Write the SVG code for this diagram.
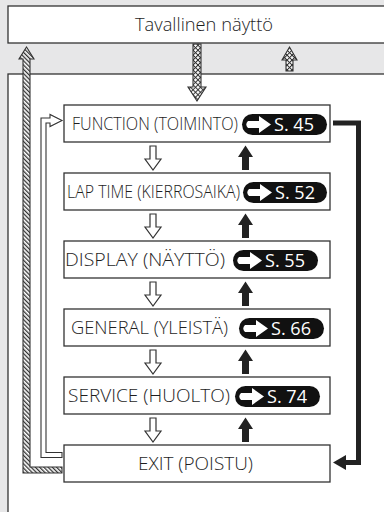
<svg xmlns="http://www.w3.org/2000/svg" width="384" height="512" viewBox="0 0 384 512">
<defs>
<pattern id="hatch" width="3" height="3" patternUnits="userSpaceOnUse" patternTransform="rotate(-45)">
<rect width="3" height="3" fill="#fff"/>
<rect width="1.3" height="3" fill="#333"/>
</pattern>
<pattern id="cross" width="3.5" height="3.5" patternUnits="userSpaceOnUse" patternTransform="rotate(45)">
<rect width="3.5" height="3.5" fill="#333"/>
<rect x="1" y="1" width="2.5" height="2.5" fill="#fff"/>
</pattern>
<g id="pillArrow">
<path d="M2,-3.5 L13,-3.5 L13,-8.5 L25,0 L13,8.5 L13,3.5 L2,3.5 Q-1.5,0 2,-3.5 Z" fill="#fff"/>
</g>
</defs>
<style>
.box{fill:#fff;stroke:#333;stroke-width:1.3}
.lbl{font-family:"Open Sans","Noto Sans","Liberation Sans",sans-serif;font-weight:300;font-size:18px;fill:#1e1e1e}
.pill{fill:#111}
.ptxt{font-family:"Open Sans","Noto Sans","Liberation Sans",sans-serif;font-size:18px;fill:#fff}
.hollow{fill:#fff;stroke:#333;stroke-width:1.2}
.solid{fill:#222}
</style>
<rect width="384" height="512" fill="#e7e7e8"/>
<g id="screen">
<rect class="box" x="8" y="6" width="390" height="37"/>
<text class="lbl" x="135" y="30.5" textLength="138" lengthAdjust="spacingAndGlyphs">Tavallinen näyttö</text>
</g>
<g id="panel">
<rect class="box" x="8" y="74" width="400" height="460"/>
</g>
<g id="connectors">
<path d="M62,473 L23,473 L23,59 L19,59 L26.5,47 L34,59 L30,59 L30,467 L62,467 Z" fill="url(#hatch)" stroke="#333" stroke-width="1.1"/>
<path d="M62,457.5 L41,457.5 L41,118 L50,118 L50,114.5 L62,120.5 L50,126.5 L50,123 L46,123 L46,452.5 L62,452.5 Z" fill="#fff" stroke="#333" stroke-width="1.1"/>
<path d="M193,44 L201,44 L201,87 L206,87 L197,101 L188,87 L193,87 Z" fill="url(#cross)" stroke="#333" stroke-width="1.1"/>
<path d="M286,71 L293,71 L293,60 L297,60 L289.5,47 L282,60 L286,60 Z" fill="url(#cross)" stroke="#333" stroke-width="1.1"/>
<path d="M333,123 L358.5,123 L358.5,462.5 L345,462.5" fill="none" stroke="#222" stroke-width="5"/>
<path d="M346,455 L333,462.5 L346,470 Z" fill="#222"/>
<g id="down-arrows">
<path class="hollow" d="M150,146 L156,146 L156,159 L161,159 L153,170 L145,159 L150,159 Z"/>
<path class="hollow" transform="translate(0,68)" d="M150,146 L156,146 L156,159 L161,159 L153,170 L145,159 L150,159 Z"/>
<path class="hollow" transform="translate(0,136)" d="M150,146 L156,146 L156,159 L161,159 L153,170 L145,159 L150,159 Z"/>
<path class="hollow" transform="translate(0,204)" d="M150,146 L156,146 L156,159 L161,159 L153,170 L145,159 L150,159 Z"/>
<path class="hollow" transform="translate(0,272)" d="M150,146 L156,146 L156,159 L161,159 L153,170 L145,159 L150,159 Z"/>
</g>
<g id="up-arrows">
<path class="solid" d="M242,170 L249,170 L249,157 L253,157 L245.5,145.5 L238,157 L242,157 Z"/>
<path class="solid" transform="translate(0,68)" d="M242,170 L249,170 L249,157 L253,157 L245.5,145.5 L238,157 L242,157 Z"/>
<path class="solid" transform="translate(0,136)" d="M242,170 L249,170 L249,157 L253,157 L245.5,145.5 L238,157 L242,157 Z"/>
<path class="solid" transform="translate(0,204)" d="M242,170 L249,170 L249,157 L253,157 L245.5,145.5 L238,157 L242,157 Z"/>
<path class="solid" transform="translate(0,272)" d="M242,170 L249,170 L249,157 L253,157 L245.5,145.5 L238,157 L242,157 Z"/>
</g>
</g>
<g id="function">
<rect class="box" x="64" y="105" width="266" height="37"/>
<text class="lbl" x="72" y="130" textLength="166" lengthAdjust="spacingAndGlyphs">FUNCTION (TOIMINTO)</text>
<rect class="pill" x="242" y="114" width="85" height="21" rx="10.5"/>
<use href="#pillArrow" x="246" y="124.5"/>
<text class="ptxt" x="274" y="131" textLength="40" lengthAdjust="spacingAndGlyphs">S. 45</text>
</g>
<g id="laptime">
<rect class="box" x="64" y="173" width="266" height="37"/>
<text class="lbl" x="67" y="198" textLength="173" lengthAdjust="spacingAndGlyphs">LAP TIME (KIERROSAIKA)</text>
<rect class="pill" x="243" y="182" width="84" height="21" rx="10.5"/>
<use href="#pillArrow" x="247" y="192.5"/>
<text class="ptxt" x="275" y="199" textLength="40" lengthAdjust="spacingAndGlyphs">S. 52</text>
</g>
<g id="display">
<rect class="box" x="64" y="241" width="266" height="37"/>
<text class="lbl" x="65" y="266" textLength="160" lengthAdjust="spacingAndGlyphs">DISPLAY (NÄYTTÖ)</text>
<rect class="pill" x="233" y="250" width="85" height="21" rx="10.5"/>
<use href="#pillArrow" x="237" y="260.5"/>
<text class="ptxt" x="265" y="267" textLength="40" lengthAdjust="spacingAndGlyphs">S. 55</text>
</g>
<g id="general">
<rect class="box" x="64" y="309" width="266" height="37"/>
<text class="lbl" x="71" y="334" textLength="157" lengthAdjust="spacingAndGlyphs">GENERAL (YLEISTÄ)</text>
<rect class="pill" x="239" y="318" width="85" height="21" rx="10.5"/>
<use href="#pillArrow" x="243" y="328.5"/>
<text class="ptxt" x="271" y="335" textLength="40" lengthAdjust="spacingAndGlyphs">S. 66</text>
</g>
<g id="service">
<rect class="box" x="64" y="377" width="266" height="37"/>
<text class="lbl" x="68" y="402" textLength="162" lengthAdjust="spacingAndGlyphs">SERVICE (HUOLTO)</text>
<rect class="pill" x="235" y="386" width="85" height="21" rx="10.5"/>
<use href="#pillArrow" x="239" y="396.5"/>
<text class="ptxt" x="267" y="403" textLength="40" lengthAdjust="spacingAndGlyphs">S. 74</text>
</g>
<g id="exit">
<rect class="box" x="64" y="445" width="266" height="37"/>
<text class="lbl" x="138" y="470" textLength="115" lengthAdjust="spacingAndGlyphs">EXIT (POISTU)</text>
</g>
</svg>
